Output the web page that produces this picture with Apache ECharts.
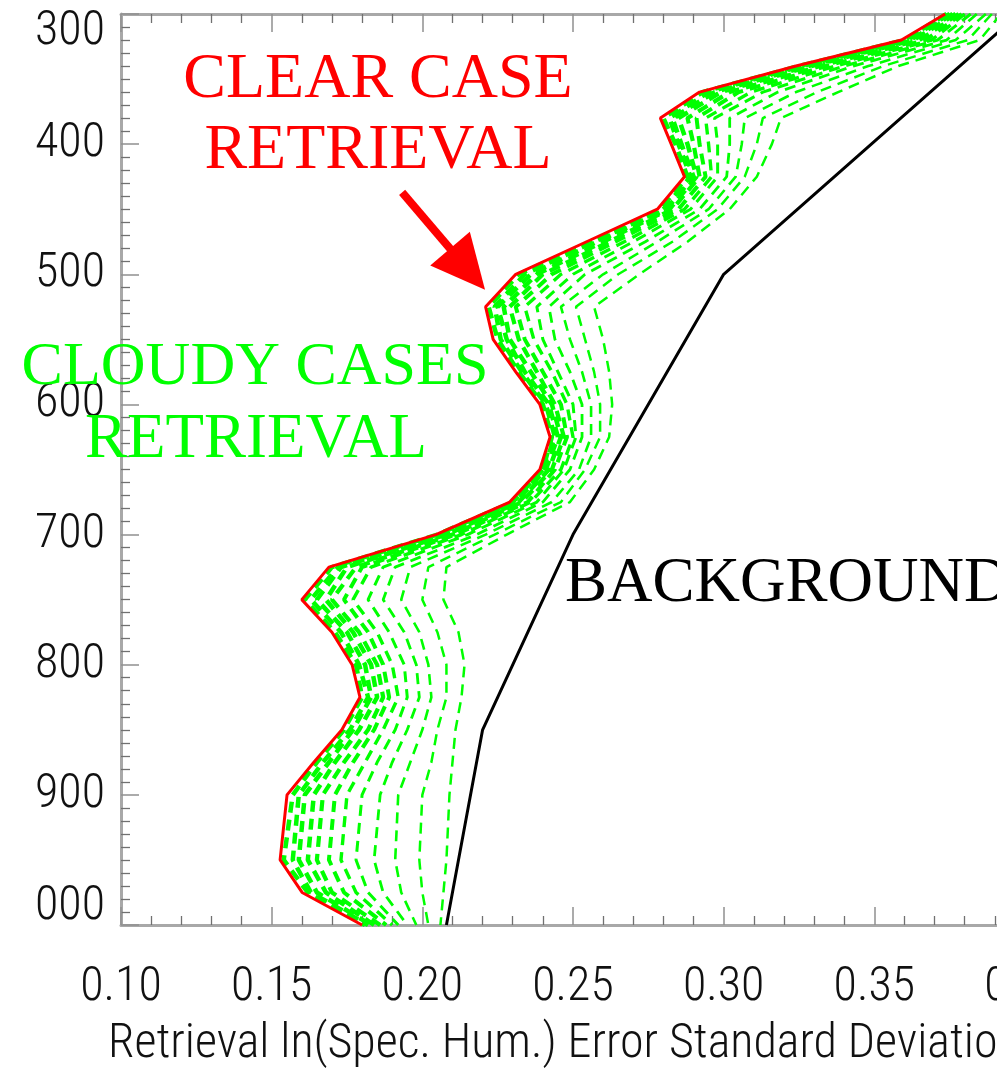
<!DOCTYPE html>
<html>
<head>
<meta charset="utf-8">
<script src="https://cdn.jsdelivr.net/npm/echarts@6/dist/echarts.min.js"></script>
<style>
html,body{margin:0;padding:0;background:#fff;}
#chart{width:997px;height:1079px;}
</style>
</head>
<body>
<div id="chart"></div>
<script>
// ---------------- DATA ----------------
const pressureLevels = [300,320,340,360,380,400,425,450,475,500,525,550,575,600,625,650,675,700,725,750,775,800,825,850,875,900,950,975,1000];
const clearCase = [0.3735,0.359,0.324,0.292,0.279,0.2826,0.287,0.278,0.2545,0.231,0.221,0.2235,0.231,0.239,0.2424,0.239,0.229,0.2045,0.169,0.160,0.170,0.1767,0.1793,0.1733,0.164,0.1551,0.1528,0.1601,0.180];

const cloudy1  = [0.374,0.360,0.325,0.293,0.280,0.284,0.288,0.279,0.256,0.232,0.222,0.225,0.232,0.240,0.243,0.240,0.230,0.205,0.170,0.161,0.171,0.178,0.180,0.174,0.165,0.157,0.154,0.162,0.181];
const cloudy2  = [0.375,0.361,0.326,0.295,0.282,0.285,0.289,0.280,0.257,0.234,0.224,0.226,0.233,0.241,0.244,0.240,0.230,0.206,0.172,0.163,0.173,0.179,0.182,0.176,0.167,0.159,0.157,0.163,0.182];
const cloudy3  = [0.376,0.362,0.328,0.297,0.283,0.286,0.290,0.281,0.258,0.236,0.225,0.228,0.234,0.242,0.245,0.241,0.231,0.207,0.173,0.165,0.175,0.181,0.183,0.177,0.169,0.161,0.159,0.165,0.183];
const cloudy4  = [0.377,0.363,0.329,0.299,0.285,0.288,0.291,0.282,0.260,0.238,0.227,0.229,0.236,0.243,0.246,0.242,0.232,0.208,0.175,0.168,0.177,0.183,0.185,0.179,0.171,0.164,0.162,0.168,0.184];
const cloudy5  = [0.378,0.365,0.332,0.302,0.288,0.290,0.292,0.283,0.262,0.240,0.229,0.232,0.238,0.244,0.247,0.243,0.233,0.210,0.178,0.170,0.179,0.185,0.187,0.182,0.174,0.167,0.165,0.170,0.186];
const cloudy6  = [0.379,0.367,0.334,0.305,0.291,0.292,0.294,0.285,0.264,0.243,0.231,0.234,0.240,0.246,0.248,0.244,0.235,0.211,0.180,0.174,0.182,0.187,0.189,0.184,0.177,0.171,0.169,0.174,0.188];
const cloudy7  = [0.380,0.369,0.337,0.309,0.294,0.295,0.296,0.287,0.267,0.246,0.234,0.237,0.243,0.248,0.250,0.246,0.236,0.213,0.183,0.177,0.185,0.190,0.192,0.187,0.181,0.175,0.173,0.178,0.190];
const cloudy8  = [0.382,0.371,0.340,0.313,0.297,0.298,0.298,0.289,0.270,0.250,0.238,0.240,0.245,0.250,0.251,0.247,0.238,0.215,0.187,0.182,0.189,0.194,0.195,0.191,0.185,0.180,0.178,0.182,0.192];
const cloudy9  = [0.384,0.374,0.343,0.318,0.302,0.302,0.301,0.292,0.274,0.254,0.242,0.244,0.249,0.253,0.253,0.249,0.240,0.218,0.191,0.187,0.194,0.198,0.199,0.195,0.190,0.186,0.184,0.187,0.195];
const cloudy10 = [0.387,0.377,0.348,0.324,0.307,0.306,0.304,0.295,0.278,0.260,0.246,0.249,0.253,0.256,0.256,0.252,0.243,0.221,0.196,0.193,0.199,0.202,0.203,0.200,0.196,0.192,0.191,0.193,0.198];
const cloudy11 = [0.389,0.381,0.353,0.331,0.313,0.311,0.307,0.298,0.283,0.265,0.251,0.254,0.257,0.259,0.259,0.254,0.246,0.224,0.202,0.200,0.205,0.208,0.208,0.205,0.203,0.200,0.199,0.200,0.202];
const cloudy12 = [0.392,0.385,0.358,0.338,0.319,0.316,0.311,0.302,0.288,0.272,0.257,0.260,0.262,0.263,0.262,0.257,0.249,0.228,0.208,0.207,0.212,0.214,0.213,0.211,0.210,0.209,0.208,0.207,0.206];

const backgroundLevels = [300,400,500,700,850,1000];
const background = [0.398,0.349,0.300,0.250,0.220,0.208];

// arrow annotation (value, pressure): start -> head centre
const arrowFrom = [0.1933, 437];
const arrowTo = [0.2150, 496];

const yTickLabels = {300:'300',400:'400',500:'500',600:'600',700:'700',800:'800',900:'900',1000:'000'};
const xTitle = 'Retrieval ln(Spec. Hum.) Error Standard Deviation';

// ---------------- CHART ----------------
const SANS = "'Roboto','Open Sans',sans-serif";
const SANS_W = '300 condensed';
const SERIF = "'Liberation Serif','DejaVu Serif',serif";
const RED = '#ff0000', GREEN = '#00ff00';

const pairs = (vals, levels) => vals.map((v, i) => [v, levels[i]]);
const cloudyCurves = [cloudy1,cloudy2,cloudy3,cloudy4,cloudy5,cloudy6,cloudy7,cloudy8,cloudy9,cloudy10,cloudy11,cloudy12];
const cloudyWidths = [4.5,4.5,4.5,4.5,4.2,4,3.4,3,2.8,2.6,2.5,2.5];

const axisLine = {show:true, onZero:false, lineStyle:{color:'#a8a8a8', width:3}};
const tick = {show:true, inside:true, length:18, lineStyle:{color:'#909090', width:1.5}};
const minor = (n) => ({show:true, splitNumber:n, length:9, lineStyle:{color:'#707070', width:1.3}});

const series = [];
cloudyCurves.forEach((c, i) => {
  series.push({
    type:'line', name:'cloudy'+(i+1), data:pairs(c, pressureLevels),
    symbol:'none', z:2,
    lineStyle:{color:GREEN, width:cloudyWidths[i], type:[11,7]}
  });
});
series.push({
  type:'line', name:'background', data:pairs(background, backgroundLevels),
  symbol:'none', z:3, lineStyle:{color:'#000', width:3}
});
series.push({
  type:'line', name:'clear', data:pairs(clearCase, pressureLevels),
  symbol:'none', z:4, lineStyle:{color:RED, width:3},
  markLine:{
    silent:true, symbol:['none','triangle'], symbolSize:[52,54],
    label:{show:false},
    lineStyle:{color:RED, width:8, type:'solid'},
    itemStyle:{color:RED},
    data:[[{coord:arrowFrom},{coord:arrowTo}]]
  }
});

const chart = echarts.init(document.getElementById('chart'), null, {renderer:'canvas'});
chart.setOption({
  animation:false,
  backgroundColor:'#ffffff',
  grid:{left:121, top:14, width:904, height:911, containLabel:false, outerBoundsMode:'none'},
  xAxis:[
    {type:'value', position:'bottom', min:0.10, max:0.40, interval:0.05,
     axisLine, axisTick:tick, minorTick:minor(5), splitLine:{show:false}, minorSplitLine:{show:false},
     axisLabel:{margin:39, fontSize:48, color:'#111', fontFamily:SANS, fontWeight:SANS_W, formatter:v => v.toFixed(2)}},
    {type:'value', position:'top', min:0.10, max:0.40, interval:0.05,
     axisLine, axisTick:tick, minorTick:minor(5), splitLine:{show:false},
     axisLabel:{show:false}}
  ],
  yAxis:{type:'value', inverse:true, min:300, max:1000, interval:100,
     axisLine, axisTick:tick, minorTick:minor(10), splitLine:{show:false},
     axisLabel:{margin:16, fontSize:48, lineHeight:36, color:'#111', fontFamily:SANS, fontWeight:SANS_W,
       verticalAlignMinLabel:'top', verticalAlignMaxLabel:'bottom',
       formatter:v => yTickLabels[v] || String(v)}},
  graphic:[
    {type:'text', left:108, top:1021, style:{text:xTitle, fontSize:48, fontFamily:SANS, fontWeight:SANS_W, fill:'#111'}},
    {type:'text', x:378, y:80, style:{text:'CLEAR CASE', fontSize:64, fontFamily:SERIF, fill:RED, align:'center', verticalAlign:'middle'}},
    {type:'text', x:378, y:151, style:{text:'RETRIEVAL', fontSize:64, fontFamily:SERIF, fill:RED, align:'center', verticalAlign:'middle'}},
    {type:'text', x:255, y:368, z:10, style:{text:'CLOUDY CASES', fontSize:62, fontFamily:SERIF, fill:GREEN, align:'center', verticalAlign:'middle'}},
    {type:'text', x:256, y:440, z:10, style:{text:'RETRIEVAL', fontSize:63, fontFamily:SERIF, fill:GREEN, align:'center', verticalAlign:'middle'}},
    {type:'text', x:565, y:584, style:{text:'BACKGROUND', fontSize:63, fontFamily:SERIF, fill:'#000', align:'left', verticalAlign:'middle'}}
  ],
  series
});
</script>
</body>
</html>
